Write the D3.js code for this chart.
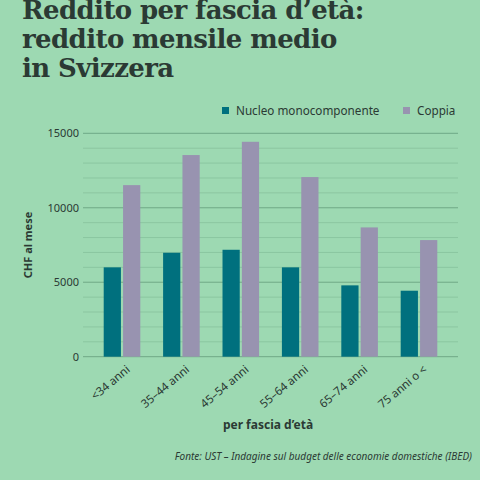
<!DOCTYPE html><html><head><meta charset="utf-8"><script src="https://cdn.jsdelivr.net/npm/d3@7"></script>
<style>body{margin:0;background:#9dd9b2}svg{display:block}</style></head><body><svg id="c" width="480" height="480"></svg><script>
const categories=["<34 anni","35–44 anni","45–54 anni","55–64 anni","65–74 anni","75 anni o <"];
const single=[6000,6980,7180,6000,4790,4430];
const couple=[11520,13540,14430,12060,8680,7830];
const yTicks=[0,5000,10000,15000];
const series=["Nucleo monocomponente","Coppia"];
const colors=["#00707e","#9893b0"];
const svg=d3.select("#c");
svg.append("rect").attr("width",480).attr("height",480).attr("fill","#9dd9b2");
const ink="#2b3a34";
const t=svg.append("text").attr("font-family","DejaVu Serif, serif").attr("font-weight","bold").attr("font-size",26).attr("fill",ink).attr("letter-spacing","-0.6");
["Reddito per fascia d’età:","reddito mensile medio","in Svizzera"].forEach((s,i)=>t.append("tspan").attr("x",22).attr("y",19+i*29).text(s));
const y=d3.scaleLinear().domain([0,15000]).range([356.7,133.3]);
const x0=d3.scaleBand().domain(categories).range([92.3,448.7]).paddingInner(0.384).paddingOuter(0.192);
const x1=d3.scaleBand().domain([0,1]).range([0,x0.bandwidth()]).paddingInner(0.11);
const g=svg.append("g");
d3.range(0,15001,1000).forEach(v=>{g.append("line").attr("x1",83).attr("x2",458).attr("y1",y(v)).attr("y2",y(v)).attr("stroke",v%5000===0?"#6fa886":"#8bc6a0").attr("stroke-width",1);});
const yAx=svg.append("g").attr("transform","translate(83,0)").call(d3.axisLeft(y).tickValues(yTicks).tickSize(0).tickPadding(8).tickFormat(d=>d===0?"0":String(d)));
yAx.select(".domain").remove();
yAx.selectAll("text").attr("font-family","Noto Sans, sans-serif").attr("font-size",11).attr("fill",ink).attr("dx",4);
categories.forEach((c,i)=>{[single[i],couple[i]].forEach((v,j)=>{
svg.append("rect").attr("x",x0(c)+x1(j)).attr("y",y(v)).attr("width",x1.bandwidth()).attr("height",y(0)-y(v)).attr("fill",colors[j]);});});
const xAx=svg.append("g").attr("transform","translate(0,356.7)").call(d3.axisBottom(x0).tickSize(0).tickPadding(6));
xAx.select(".domain").remove();
xAx.selectAll("text").attr("font-family","Noto Sans, sans-serif").attr("font-size",11.5).attr("fill",ink).attr("text-anchor","end").attr("transform","rotate(-40)").attr("dx","-0.2em").attr("dy","0.9em");
const lg=[[222,"Nucleo monocomponente"],[403,"Coppia"]];
lg.forEach(([lx,s],i)=>{svg.append("rect").attr("x",lx).attr("y",107).attr("width",7).attr("height",7).attr("fill",colors[i]);
svg.append("text").attr("x",lx+14).attr("y",115).attr("font-family","Noto Sans, sans-serif").attr("font-size",11.7).attr("fill",ink).text(s);});
svg.append("text").attr("transform","translate(32,245) rotate(-90)").attr("text-anchor","middle").attr("font-family","Noto Sans, sans-serif").attr("font-weight","bold").attr("font-size",11).attr("fill",ink).text("CHF al mese");
svg.append("text").attr("x",268).attr("y",429).attr("text-anchor","middle").attr("font-family","Noto Sans, sans-serif").attr("font-weight","bold").attr("font-size",12).attr("fill",ink).text("per fascia d’età");
svg.append("text").attr("x",472).attr("y",460).attr("text-anchor","end").attr("font-family","Noto Sans, sans-serif").attr("font-style","italic").attr("font-size",10).attr("fill",ink).text("Fonte: UST – Indagine sul budget delle economie domestiche (IBED)");
</script></body></html>
